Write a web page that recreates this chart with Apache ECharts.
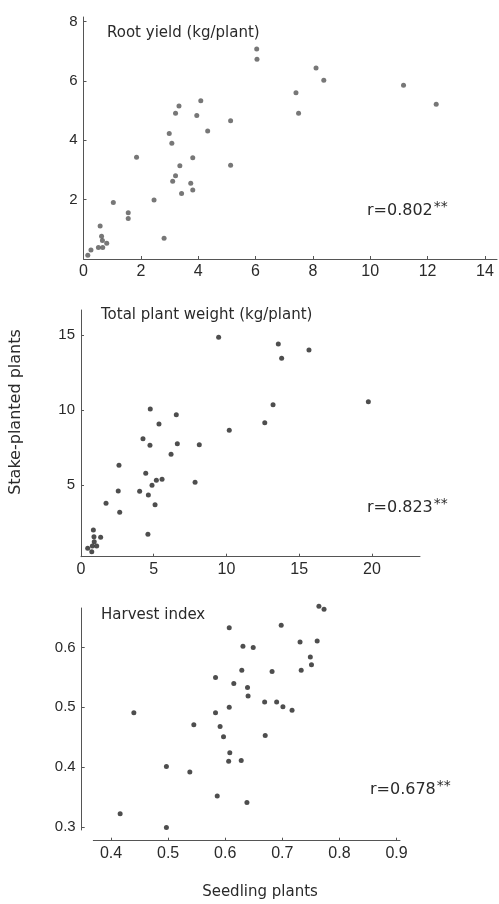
<!DOCTYPE html>
<html>
<head>
<meta charset="utf-8">
<script src="https://cdn.jsdelivr.net/npm/echarts@6/dist/echarts.min.js"></script>
<style>
html, body { margin: 0; padding: 0; background: #fff; }
#chart { width: 499px; height: 904px; }
</style>
</head>
<body>
<div id="chart"></div>
<script>
// root yield: [seedling, stake-planted]
var rootYield = [
  [0.15, 0.13], [0.26, 0.30], [0.52, 0.39], [0.67, 0.39], [0.58, 1.11], [0.63, 0.77],
  [0.66, 0.62], [0.81, 0.53], [1.04, 1.90], [1.56, 1.56], [1.56, 1.36], [1.85, 3.43],
  [2.46, 1.99], [2.81, 0.70], [2.99, 4.23], [3.08, 3.90], [3.11, 2.62], [3.21, 2.80],
  [3.21, 4.91], [3.33, 5.15], [3.36, 3.14], [3.42, 2.21], [3.74, 2.55], [3.81, 3.41],
  [3.81, 2.32], [3.95, 4.83], [4.09, 5.33], [4.33, 4.31], [5.13, 4.66], [5.13, 3.16],
  [6.04, 7.07], [6.05, 6.73], [7.41, 5.60], [7.50, 4.91], [8.11, 6.43], [8.38, 6.02],
  [11.16, 5.85], [12.30, 5.21]
];
var totalWeight = [
  [0.46, 0.78], [0.74, 0.55], [0.85, 2.00], [0.89, 1.55], [1.35, 1.51], [0.91, 1.22],
  [0.78, 0.93], [1.08, 0.93], [1.72, 3.78], [2.61, 6.31], [2.56, 4.60], [2.66, 3.18],
  [4.03, 4.58], [4.26, 8.09], [4.45, 5.78], [4.63, 4.33], [4.60, 1.71], [4.76, 10.07],
  [4.74, 7.65], [4.88, 4.98], [5.09, 3.69], [5.18, 5.31], [5.36, 9.07], [5.57, 5.38],
  [6.19, 7.05], [6.55, 9.69], [6.62, 7.75], [7.84, 5.18], [8.13, 7.69], [9.46, 14.85],
  [10.19, 8.65], [12.63, 9.15], [13.20, 10.35], [13.56, 14.40], [13.79, 13.45],
  [15.67, 14.00], [19.75, 10.55]
];
var harvestIndex = [
  [0.416, 0.322], [0.440, 0.491], [0.497, 0.299], [0.497, 0.401], [0.538, 0.392],
  [0.545, 0.471], [0.583, 0.550], [0.583, 0.491], [0.586, 0.352], [0.591, 0.468],
  [0.597, 0.451], [0.607, 0.633], [0.607, 0.500], [0.608, 0.424], [0.606, 0.410],
  [0.615, 0.540], [0.628, 0.411], [0.629, 0.562], [0.631, 0.602], [0.638, 0.341],
  [0.639, 0.533], [0.640, 0.519], [0.649, 0.600], [0.669, 0.509], [0.670, 0.453],
  [0.682, 0.560], [0.690, 0.509], [0.698, 0.637], [0.701, 0.501], [0.717, 0.495],
  [0.731, 0.609], [0.733, 0.562], [0.749, 0.584], [0.751, 0.571], [0.761, 0.611],
  [0.764, 0.669], [0.773, 0.664]
];

var xTicks1 = [0, 2, 4, 6, 8, 10, 12, 14];
var yTicks1 = [2, 4, 6, 8];
var xTicks2 = [0, 5, 10, 15, 20];
var yTicks2 = [5, 10, 15];
var xTicks3 = [0.4, 0.5, 0.6, 0.7, 0.8, 0.9];
var yTicks3 = [0.3, 0.4, 0.5, 0.6];

var panelTitles = ['Root yield (kg/plant)', 'Total plant weight (kg/plant)', 'Harvest index'];
var rValues = ['0.802', '0.823', '0.678'];

var FONT = '"Liberation Sans", Arial, sans-serif';
var TFONT = '"DejaVu Sans", sans-serif';
var INK = '#2a2a2a';

function xAxisOf(idx, min, max, ticks, offset) {
  return {
    type: 'value', gridIndex: idx, min: min, max: max, offset: offset || 0,
    splitLine: { show: false },
    axisLine: { onZero: false, lineStyle: { color: '#555', width: 1 } },
    axisTick: { inside: true, length: 3, customValues: ticks, lineStyle: { color: '#555' } },
    axisLabel: { customValues: ticks, margin: 5, color: INK, fontFamily: FONT, fontSize: 16 }
  };
}
function yAxisOf(idx, min, max, ticks, offset) {
  return {
    type: 'value', gridIndex: idx, min: min, max: max, offset: offset || 0,
    splitLine: { show: false },
    axisLine: { show: true, onZero: false, lineStyle: { color: '#555', width: 1 } },
    axisTick: { show: true, inside: true, length: 3, customValues: ticks, lineStyle: { color: '#555' } },
    axisLabel: { customValues: ticks, margin: 6, color: INK, fontFamily: FONT, fontSize: 15 }
  };
}
function dots(idx, data, color) {
  return {
    type: 'scatter', xAxisIndex: idx, yAxisIndex: idx, data: data,
    symbolSize: 5, clip: false, itemStyle: { color: color }, silent: true
  };
}
function label(x, y, text, align, rot, size) {
  return {
    type: 'text', x: x, y: y, rotation: rot || 0,
    style: { text: text, fill: INK, font: (size || 15) + 'px ' + TFONT, textAlign: align || 'left', textVerticalAlign: 'middle' }
  };
}
function rText(x, y, v) {
  return {
    type: 'text', x: x, y: y,
    style: {
      text: '{a|r=' + v + '}{s|**}',
      textVerticalAlign: 'middle',
      rich: {
        a: { fontSize: 16, fontFamily: TFONT, fill: INK },
        s: { fontSize: 14, fontFamily: TFONT, fill: INK, verticalAlign: 'top', padding: [0, 0, 8, 1] }
      }
    }
  };
}

var option = {
  backgroundColor: '#fff',
  animation: false,
  grid: [
    { left: 83.5, right: 2, top: 17, bottom: 645 },
    { left: 81, right: 79, top: 310, bottom: 347.3 },
    { left: 93.3, right: 99, top: 608, bottom: 74 }
  ],
  xAxis: [
    xAxisOf(0, 0, 14.42, xTicks1),
    xAxisOf(1, 0, 23.3, xTicks2),
    xAxisOf(2, 0.369, 0.906, xTicks3, 10.7)
  ],
  yAxis: [
    yAxisOf(0, 0, 8.15, yTicks1),
    yAxisOf(1, 0.22, 16.67, yTicks2),
    yAxisOf(2, 0.295, 0.666, yTicks3, 11.6)
  ],
  series: [
    dots(0, rootYield, '#555'),
    dots(1, totalWeight, '#222'),
    dots(2, harvestIndex, '#222')
  ],
  graphic: [
    label(107, 33, panelTitles[0]),
    label(101, 315, panelTitles[1]),
    label(101, 615, panelTitles[2]),
    rText(367, 211, rValues[0]),
    rText(367, 508, rValues[1]),
    rText(370, 790, rValues[2]),
    label(260, 892, 'Seedling plants', 'center'),
    label(16, 412, 'Stake-planted plants', 'center', Math.PI / 2, 16)
  ]
};

var myChart = echarts.init(document.getElementById('chart'));
myChart.setOption(option);
</script>
</body>
</html>
